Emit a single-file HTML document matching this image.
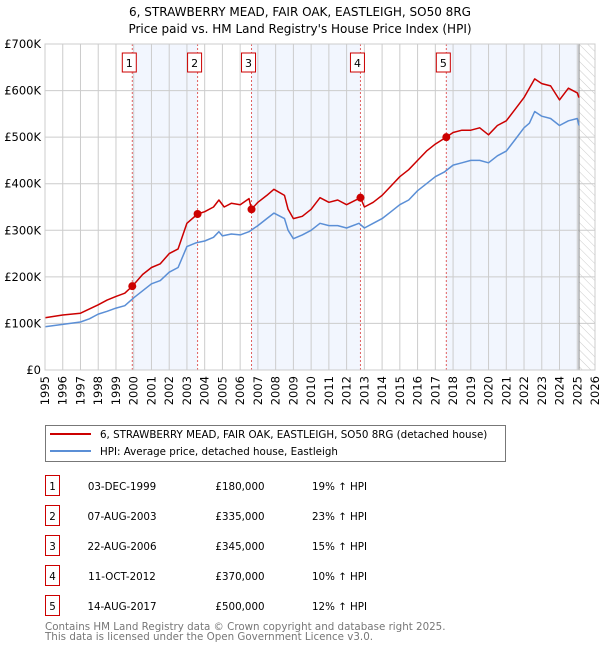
<!DOCTYPE html>
<html><head><meta charset="utf-8">
<style>
body{margin:0;background:#fff;font-family:"DejaVu Sans","Liberation Sans",sans-serif;}
#wrap{position:relative;width:600px;height:650px;overflow:hidden;}
svg text{font-family:"DejaVu Sans","Liberation Sans",sans-serif;}
</style></head>
<body>
<div id="wrap">
<svg id="chart" width="600" height="650"></svg>
</div>
<script>
const hpiYears=[1995,1996,1997,1997.5,1998,1998.5,1999,1999.5,2000,2000.5,2001,2001.5,2002,2002.5,2003,2003.5,2004,2004.5,2004.8,2005,2005.5,2006,2006.5,2007,2007.5,2007.9,2008.5,2008.7,2009,2009.5,2010,2010.5,2011,2011.5,2012,2012.7,2013,2013.5,2014,2014.5,2015,2015.5,2016,2016.5,2017,2017.5,2018,2018.5,2019,2019.5,2020,2020.5,2021,2021.5,2022,2022.3,2022.6,2023,2023.5,2024,2024.5,2025,2025.1];
const hpiValues=[93,98,103,110,120,126,133,138,155,170,185,192,210,220,265,273,277,285,297,288,292,290,297,310,325,337,325,300,282,290,300,315,310,310,305,315,305,315,325,340,355,365,385,400,415,425,440,445,450,450,445,460,470,495,520,530,555,545,540,525,535,540,525];
const propYears=[1995,1996,1997,1998,1998.5,1999,1999.5,1999.92,2000.5,2001,2001.5,2002,2002.5,2003,2003.6,2004,2004.5,2004.8,2005.1,2005.5,2006,2006.5,2006.64,2007,2007.5,2007.9,2008.5,2008.7,2009,2009.5,2010,2010.5,2011,2011.5,2012,2012.78,2013,2013.5,2014,2014.5,2015,2015.5,2016,2016.5,2017,2017.62,2018,2018.5,2019,2019.5,2020,2020.5,2021,2021.5,2022,2022.6,2023,2023.5,2024,2024.5,2025,2025.1];
const propValues=[112,118,122,140,150,158,165,180,205,220,228,250,260,315,335,340,350,365,350,358,355,368,345,360,375,388,375,345,325,330,345,370,360,365,355,370,350,360,375,395,415,430,450,470,485,500,510,515,515,520,505,525,535,560,585,625,615,610,580,605,595,585];
const saleLabels=["1","2","3","4","5"];
const saleYears=[1999.92,2003.6,2006.64,2012.78,2017.62];
const saleValues=[180,335,345,370,500];
const saleDates=["03-DEC-1999","07-AUG-2003","22-AUG-2006","11-OCT-2012","14-AUG-2017"];
const salePrices=["£180,000","£335,000","£345,000","£370,000","£500,000"];
const saleDiffs=["19% ↑ HPI","23% ↑ HPI","15% ↑ HPI","10% ↑ HPI","12% ↑ HPI"];
const yTicks=[0,100,200,300,400,500,600,700];
const yTickLabels=["£0","£100K","£200K","£300K","£400K","£500K","£600K","£700K"];
const xTicks=[1995,1996,1997,1998,1999,2000,2001,2002,2003,2004,2005,2006,2007,2008,2009,2010,2011,2012,2013,2014,2015,2016,2017,2018,2019,2020,2021,2022,2023,2024,2025,2026];
const dataEnd=2025.1;

const NS="http://www.w3.org/2000/svg";
const svg=document.getElementById('chart');
const L=45,R=595,T=44,B=370;
const X=y=>L+(y-1995)*(R-L)/31;
const Y=v=>B-v*(B-T)/700;
function el(tag,attrs,parent){const e=document.createElementNS(NS,tag);for(const k in attrs)e.setAttribute(k,attrs[k]);(parent||svg).appendChild(e);return e;}

const defs=el('defs',{});
const pat=el('pattern',{id:'hatch',width:6,height:6,patternUnits:'userSpaceOnUse',patternTransform:'rotate(-45)'},defs);
el('line',{x1:0,y1:0,x2:0,y2:6,stroke:'#ccc','stroke-width':1},pat);

let t=el('text',{x:300,y:16,'text-anchor':'middle','font-size':12,fill:'#000'});t.textContent="6, STRAWBERRY MEAD, FAIR OAK, EASTLEIGH, SO50 8RG";

t=el('text',{x:300,y:33,'text-anchor':'middle','font-size':12,fill:'#000'});t.textContent="Price paid vs. HM Land Registry's House Price Index (HPI)";


const bandEnds=[[saleYears[0],saleYears[1]],[saleYears[2],saleYears[3]],[saleYears[4],dataEnd]];
bandEnds.forEach(b=>{const r=el('rect',{x:X(b[0]),y:T,width:X(b[1])-X(b[0]),height:B-T,fill:'#f2f6fe'});
});
let h=el('rect',{x:X(dataEnd),y:T,width:R-X(dataEnd),height:B-T,fill:'url(#hatch)'});


xTicks.forEach(y=>{el('line',{x1:X(y),x2:X(y),y1:T,y2:B,stroke:'#ccc','stroke-width':1});
const tx=el('text',{transform:`translate(${X(y)+4},${B+6}) rotate(-90)`,'text-anchor':'end','font-size':11.5,fill:'#000'});tx.textContent=y;
});
yTicks.forEach((v,i)=>{el('line',{x1:L,x2:R,y1:Y(v),y2:Y(v),stroke:'#ccc','stroke-width':1});
const tx=el('text',{x:L-4,y:Y(v)+4,'text-anchor':'end','font-size':11.5,fill:'#000'});tx.textContent=yTickLabels[i];
});
el('line',{x1:X(dataEnd),x2:X(dataEnd),y1:T,y2:B,stroke:'#888','stroke-width':1});

saleYears.forEach((y,i)=>{el('line',{x1:X(y),x2:X(y),y1:T,y2:B,stroke:'#e06060','stroke-width':1,'stroke-dasharray':'2,2'});
const g=el('g',{});
el('rect',{x:X(y)-10,y:53,width:14,height:19,fill:'#fff',stroke:'#c00','stroke-width':1},g);
const tt=el('text',{x:X(y)-3,y:67,'text-anchor':'middle','font-size':11,fill:'#000'},g);tt.textContent=saleLabels[i];});

function line(xs,vs,color,name){const d=xs.map((x,i)=>(i?'L':'M')+X(x).toFixed(1)+','+Y(vs[i]).toFixed(1)).join('');
const p=el('path',{d:d,fill:'none',stroke:color,'stroke-width':1.5,'stroke-linejoin':'round'});
}
line(hpiYears,hpiValues,'#5b8fd6','hpi-line');
line(propYears,propValues,'#cc0000','property-price-line');
saleYears.forEach((y,i)=>{const c=el('circle',{cx:X(y),cy:Y(saleValues[i]),r:4,fill:'#cc0000'});
});
el('rect',{x:L,y:T,width:R-L,height:B-T,fill:'none',stroke:'#ccc'});

const lg=el('g',{});
el('rect',{x:45.5,y:425.5,width:460,height:36,fill:'#fff',stroke:'#777'},lg);
el('line',{x1:50,x2:91,y1:434,y2:434,stroke:'#cc0000','stroke-width':2},lg);
el('line',{x1:50,x2:91,y1:451,y2:451,stroke:'#5b8fd6','stroke-width':2},lg);
let lt=el('text',{x:100,y:438,'font-size':10.3,fill:'#000'},lg);lt.textContent="6, STRAWBERRY MEAD, FAIR OAK, EASTLEIGH, SO50 8RG (detached house)";
lt=el('text',{x:100,y:455,'font-size':10.3,fill:'#000'},lg);lt.textContent="HPI: Average price, detached house, Eastleigh";

saleLabels.forEach((lab,i)=>{const y0=476+i*30;const g=el('g',{});

el('rect',{x:45.5,y:y0-0.5,width:14,height:20,fill:'#fff',stroke:'#c00'},g);
let a=el('text',{x:52.5,y:y0+14,'text-anchor':'middle','font-size':10.3},g);a.textContent=lab;
a=el('text',{x:122,y:y0+14,'text-anchor':'middle','font-size':10.3},g);a.textContent=saleDates[i];
a=el('text',{x:240,y:y0+14,'text-anchor':'middle','font-size':10.3},g);a.textContent=salePrices[i];
a=el('text',{x:312,y:y0+14,'font-size':10.3},g);a.textContent=saleDiffs[i];});
let f=el('text',{x:45,y:630,'font-size':10.3,fill:'#777'});f.textContent="Contains HM Land Registry data © Crown copyright and database right 2025.";

f=el('text',{x:45,y:640,'font-size':10.3,fill:'#777'});f.textContent="This data is licensed under the Open Government Licence v3.0.";

</script>
</body></html>
